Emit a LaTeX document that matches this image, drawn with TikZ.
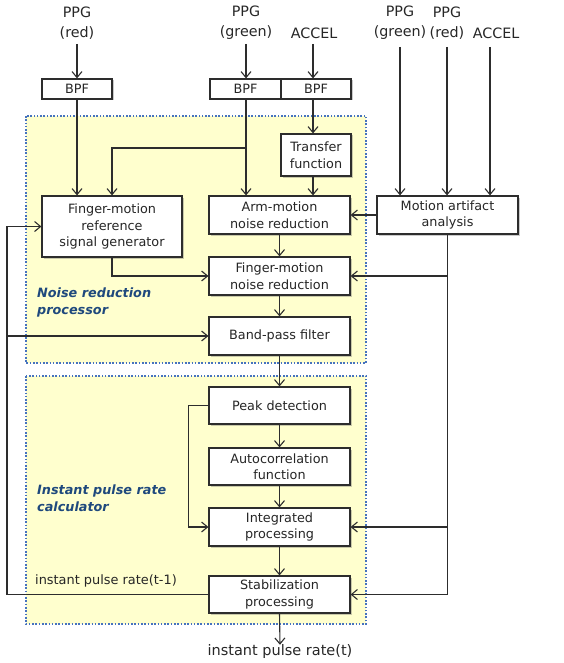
\documentclass[tikz,border=0pt]{standalone}
\usepackage{fontspec}
\setmainfont{DejaVu Sans}
\usetikzlibrary{arrows.meta,shadows,calc}
\definecolor{panelfill}{RGB}{255,255,206}
\definecolor{panelline}{RGB}{70,115,190}
\definecolor{labelblue}{RGB}{31,73,125}
\definecolor{linegray}{RGB}{45,45,45}
\tikzset{
  box/.style={draw=linegray, line width=1.2pt, fill=white, align=center, inner sep=0pt,
    font=\fontsize{12.8}{16.5}\selectfont, text=black!85,
    drop shadow={shadow xshift=1.5pt, shadow yshift=-1.5pt, opacity=0.35, fill=black!60}},
  panel/.style={fill=panelfill, draw=panelline, line width=2pt, dash pattern=on 1.6pt off 1.7pt},
  arr/.style={draw=linegray, line width=1.1pt, -{Straight Barb[length=6pt,width=10pt,line width=1.1pt]}},
  toplbl/.style={align=center, inner sep=0pt, font=\fontsize{14.3}{20}\selectfont, text=black!85},
  grp/.style={align=left, inner sep=0pt, font=\fontsize{12.8}{17}\selectfont\bfseries\itshape, text=labelblue},
}
\begin{document}
\begin{tikzpicture}[x=1pt,y=-1pt]
\useasboundingbox (0,0) rectangle (563,663);
% panels
\path[panel] (26,116) rectangle (366,363);
\path[panel] (26,376) rectangle (366,624);
\node[grp, anchor=north west] (gnoise) at (37,288) {Noise reduction\\processor};
\node[grp, anchor=north west] (gcalc) at (37,485) {Instant pulse rate\\calculator};
% top labels
\node[toplbl] (lppgr) at (77,23) {PPG\\(red)};
\node[toplbl] (lppgg) at (246,23) {PPG\\(green)};
\node[toplbl] (lacc) at (314,33) {ACCEL};
\node[toplbl] (rppgg) at (400,23) {PPG\\(green)};
\node[toplbl] (rppgr) at (447,23) {PPG\\(red)};
\node[toplbl] (racc) at (496,33) {ACCEL};
% boxes
\node[box, minimum width=70pt, minimum height=20pt] (bpfR) at (77,89) {BPF};
\node[box, minimum width=71pt, minimum height=20pt] (bpfG) at (245.5,89) {BPF};
\node[box, minimum width=70pt, minimum height=20pt] (bpfA) at (316,89) {BPF};
\node[box, minimum width=70pt, minimum height=42pt] (tf) at (316,155) {Transfer\\function};
\node[box, minimum width=140pt, minimum height=61pt] (fref) at (112,226.5) {Finger-motion\\reference\\signal generator};
\node[box, minimum width=141pt, minimum height=38pt] (arm) at (279.5,215) {Arm-motion\\noise reduction};
\node[box, minimum width=141pt, minimum height=38pt] (maa) at (447.5,215) {Motion artifact\\analysis};
\node[box, minimum width=141pt, minimum height=38pt] (fnr) at (279.5,276) {Finger-motion\\noise reduction};
\node[box, minimum width=141pt, minimum height=38pt] (bpfilt) at (279.5,336) {Band-pass filter};
\node[box, minimum width=141pt, minimum height=37pt] (peak) at (279.5,405.5) {Peak detection};
\node[box, minimum width=141pt, minimum height=37pt] (auto) at (279.5,466.5) {Autocorrelation\\function};
\node[box, minimum width=141pt, minimum height=38pt] (integ) at (279.5,527) {Integrated\\processing};
\node[box, minimum width=141pt, minimum height=37pt] (stab) at (279.5,594.5) {Stabilization\\processing};
\node[toplbl, anchor=west, font=\fontsize{12.9}{15}\selectfont] (prev) at (35,581) {instant pulse rate(t-1)};
\node[toplbl, font=\fontsize{14.5}{17}\selectfont] (out) at (280,651) {instant pulse rate(t)};
% coordinates
\coordinate (tR) at (77,44);
\coordinate (tG) at (246,44);
\coordinate (tA) at (313,44);
\coordinate (r1) at (400,47);
\coordinate (r2) at (447,47);
\coordinate (r3) at (490,47);
\coordinate (fbl) at (7,0);
\coordinate (brk) at (246,148);
% top arrows
\draw[arr] (tR) -- (tR |- bpfR.north);
\draw[arr] (tG) -- (tG |- bpfG.north);
\draw[arr] (tA) -- (tA |- bpfA.north);
\draw[arr] (r1) -- (r1 |- maa.north);
\draw[arr] (r2) -- (r2 |- maa.north);
\draw[arr] (r3) -- (r3 |- maa.north);
% noise reduction block
\draw[arr] (bpfR.south) -- (bpfR.south |- fref.north);
\draw[arr] (bpfG.south -| brk) -- (brk |- arm.north);
\draw[arr] (brk) -| (fref.north);
\draw[arr] (bpfA.south -| tA) -- (tA |- tf.north);
\draw[arr] (tf.south -| tA) -- (tA |- arm.north);
\draw[arr] (maa.west) -- (arm.east);
\draw[arr] (arm.south) -- (fnr.north);
\draw[arr] (fref.south) |- (fnr.west);
\draw[arr] (fnr.south) -- (bpfilt.north);
\draw[arr] (bpfilt.south) -- (peak.north);
% calculator block
\draw[arr] (peak.south) -- (auto.north);
\draw[arr] (auto.south) -- (integ.north);
\draw[arr] (integ.south) -- (stab.north);
\draw[arr] (peak.west) -- ++(-20,0) |- (integ.west);
\draw[arr] (stab.south) -- ($(out.north)+(0,1)$);
% motion artifact distribution
\draw[arr] (maa.south) |- (stab.east);
\draw[arr] (maa.south |- fnr.east) -- (fnr.east);
\draw[arr] (maa.south |- integ.east) -- (integ.east);
% feedback
\draw[arr] (stab.west) -- (stab.west -| fbl) |- (fref.west);
\draw[arr] (bpfilt.west -| fbl) -- (bpfilt.west);
\end{tikzpicture}
\end{document}
